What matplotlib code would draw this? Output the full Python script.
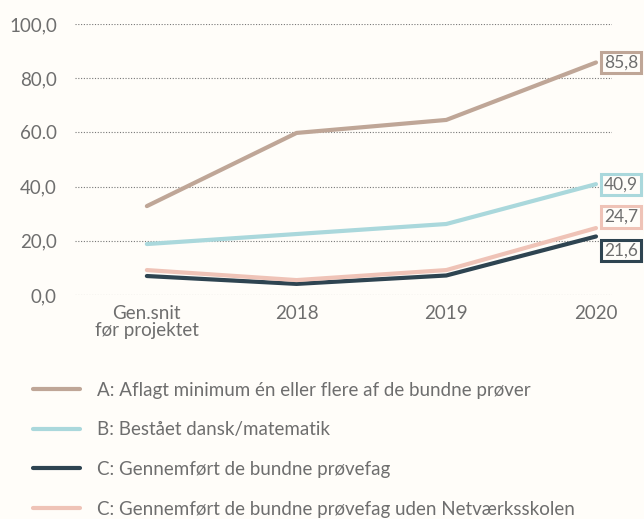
import matplotlib
matplotlib.use('Agg')
from matplotlib import pyplot as plt

plt.rcParams['font.family'] = ['Lato', 'DejaVu Sans']

categories = ['Gen.snit\nfør projektet', '2018', '2019', '2020']
a_vals = [32.8, 59.8, 64.6, 85.8]
b_vals = [18.8, 22.5, 26.2, 40.9]
c_vals = [7.0, 4.1, 7.2, 21.6]
c2_vals = [9.2, 5.5, 9.2, 24.7]
yticks = [0, 20, 40, 60, 80, 100]
ytick_labels = ['0,0', '20,0', '40,0', '60.0', '80,0', '100,0']

series = [
    ('A: Aflagt minimum én eller flere af de bundne prøver', a_vals, '#bfa697', 0),
    ('B: Bestået dansk/matematik', b_vals, '#aad8dc', 0),
    ('C: Gennemført de bundne prøvefag', c_vals, '#2e4451', -10),
    ('C: Gennemført de bundne prøvefag uden Netværksskolen', c2_vals, '#efc3b7', 8),
]

bg = '#fffdf9'
txt = '#6e6e6e'

fig = plt.figure(figsize=(6.44, 5.19), dpi=100, facecolor=bg)
ax = fig.add_axes([75/644, 1 - 295/519, 537/644, 271/519], facecolor=bg)

x = list(range(len(categories)))
handles = []
for label, vals, color, dy in series:
    ln, = ax.plot(x, vals, color=color, lw=3, solid_capstyle='round', label=label, zorder=3)
    handles.append(ln)

# value boxes at the last point
for label, vals, color, dy in series:
    ax.annotate(f'{vals[-1]:.1f}'.replace('.', ','), xy=(x[-1], vals[-1]),
                xytext=(18, dy), textcoords='offset points', ha='center', va='center',
                fontsize=12.5, color=txt, zorder=5, annotation_clip=False,
                bbox=dict(boxstyle='square,pad=0.15', fc=bg, ec=color, lw=2.2))

ax.set_xlim(-0.48, 3.107)
ax.set_ylim(0, 100)
ax.set_yticks(yticks)
ax.set_yticklabels(ytick_labels)
ax.set_xticks(x)
ax.set_xticklabels(categories, linespacing=1.05)
ax.tick_params(length=0, labelsize=13.5, colors=txt)
ax.tick_params(axis='y', pad=13)
ax.tick_params(axis='x', pad=7)
for s in ax.spines.values():
    s.set_visible(False)
ax.yaxis.grid(True, linestyle=(0, (1, 1.5)), color='#777777', lw=0.8)
ax.set_axisbelow(True)

fig.legend(handles=handles, loc='upper left', bbox_to_anchor=(33/644, 1 - 382/519),
           frameon=False, fontsize=13.5, labelcolor=txt, handlelength=2.5,
           handletextpad=0.9, labelspacing=1.2, borderpad=0, borderaxespad=0)

fig.savefig('out.png', dpi=100, facecolor=bg)
